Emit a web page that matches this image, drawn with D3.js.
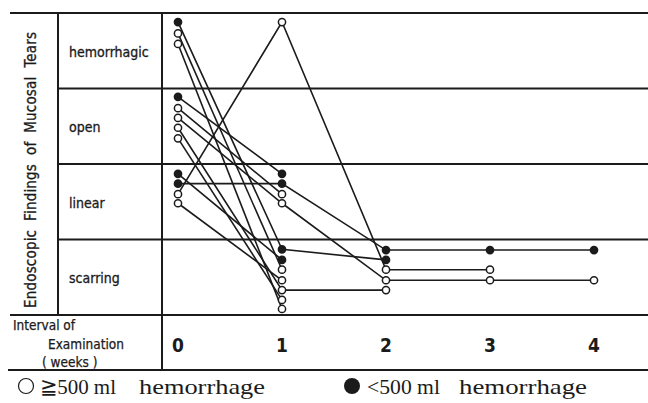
<!DOCTYPE html>
<html>
<head>
<meta charset="utf-8">
<script src="https://cdn.jsdelivr.net/npm/d3@7/dist/d3.min.js"></script>
<style>
  body { margin: 0; background: #fff; }
  svg { display: block; }
  .cond { font-family: "Liberation Sans Narrow", "DejaVu Sans Condensed", "Roboto Condensed", sans-serif; font-stretch: condensed; }
  .serif { font-family: "Liberation Serif", "DejaVu Serif", serif; }
</style>
</head>
<body>
<svg id="chart" width="648" height="403"></svg>
<script>
// Course of endoscopic findings per patient, weekly examinations.
// y value: 0-1 scarring, 1-2 linear, 2-3 open, 3-4 hemorrhagic (position inside band)

const weeks = [0, 1, 2, 3, 4];
const findings = ["scarring", "linear", "open", "hemorrhagic"];

// "lt" = <500 ml (filled), "ge" = >=500 ml (open)
const bleeding = ["lt", "ge", "ge", "lt", "ge", "ge", "ge", "ge", "lt", "lt", "ge", "ge"];

const courses = [
  [3.88, 0.87, 0.73],
  [3.73, 0.60],
  [3.59, 0.08],
  [2.89, 1.87],
  [2.74, 1.60],
  [2.61, 1.48, 0.46, 0.46, 0.46],
  [2.48, 0.33, 0.33],
  [2.34, 0.20],
  [1.87, 0.73],
  [1.74, 1.74, 0.86, 0.86, 0.86],
  [1.60, 3.88, 0.60, 0.60],
  [1.48, 0.46]
];

const svg = d3.select("#chart");
const ink = "#1b1b1b";

const plotTop = 13, plotBottom = 315, tableBottom = 370;
const col1 = 58, col2 = 162;

const x = d3.scaleLinear().domain([0, 4]).range([178, 594]);
const y = d3.scaleLinear().domain([0, 4]).range([plotBottom, plotTop]);

// table frame
const frame = svg.append("g").attr("stroke", ink).attr("stroke-width", 2);
frame.append("line").attr("x1", 10).attr("x2", 648).attr("y1", plotTop).attr("y2", plotTop);
frame.append("line").attr("x1", 10).attr("x2", 648).attr("y1", plotBottom).attr("y2", plotBottom);
frame.append("line").attr("x1", 8).attr("x2", 648).attr("y1", tableBottom).attr("y2", tableBottom);
frame.selectAll(".band-line")
  .data([1, 2, 3])
  .join("line")
  .attr("x1", col1).attr("x2", 648)
  .attr("y1", d => y(d)).attr("y2", d => y(d));
frame.append("line").attr("x1", col1).attr("x2", col1).attr("y1", plotTop).attr("y2", plotBottom);
frame.append("line").attr("x1", col2).attr("x2", col2).attr("y1", plotTop).attr("y2", tableBottom);

// row labels
svg.selectAll(".row-label")
  .data(findings)
  .join("text")
  .attr("class", "cond")
  .attr("x", 69)
  .attr("y", (d, i) => y(i + 0.5) + 6)
  .attr("font-size", 14)
  .attr("fill", ink)
  .attr("stroke", ink)
  .attr("stroke-width", 0.3)
  .text(d => d);

// y title
svg.append("text")
  .attr("class", "cond")
  .attr("transform", `translate(36, ${(plotTop + plotBottom) / 2 + 6}) rotate(-90)`)
  .attr("text-anchor", "middle")
  .attr("font-size", 15)
  .attr("fill", ink)
  .attr("stroke", ink)
  .attr("stroke-width", 0.3)
  .attr("textLength", 276)
  .attr("lengthAdjust", "spacing")
  .style("white-space", "pre")
  .text("Endoscopic  Findings  of  Mucosal  Tears");

// x header
const hdr = svg.append("g").attr("class", "cond").attr("font-size", 13.5)
  .attr("fill", ink).attr("stroke", ink).attr("stroke-width", 0.25);
hdr.append("text").attr("x", 13).attr("y", 330).text("Interval of");
hdr.append("text").attr("x", 48).attr("y", 349).text("Examination");
hdr.append("text").attr("x", 42).attr("y", 367).style("white-space", "pre").text("( weeks )");

svg.selectAll(".week")
  .data(weeks)
  .join("text")
  .attr("class", "cond")
  .attr("x", d => x(d))
  .attr("y", 352)
  .attr("text-anchor", "middle")
  .attr("font-size", 19)
  .attr("font-weight", 600)
  .attr("fill", ink)
  .text(d => d);

// patient lines
const line = d3.line()
  .x((d, i) => x(weeks[i]))
  .y(d => y(d));

svg.append("g")
  .selectAll("path")
  .data(courses)
  .join("path")
  .attr("d", d => line(d))
  .attr("fill", "none")
  .attr("stroke", ink)
  .attr("stroke-width", 1.6);

// points
const pts = courses.flatMap((c, p) => c.map((v, i) => ({ week: weeks[i], v, type: bleeding[p] })));
svg.append("g")
  .selectAll("circle")
  .data(pts)
  .join("circle")
  .attr("cx", d => x(d.week))
  .attr("cy", d => y(d.v))
  .attr("r", 3.6)
  .attr("fill", d => d.type === "lt" ? ink : "#fff")
  .attr("stroke", ink)
  .attr("stroke-width", 1.5);

// legend
const leg = svg.append("g").attr("class", "serif").attr("font-size", 22).attr("fill", ink);
leg.append("circle").attr("cx", 26).attr("cy", 386).attr("r", 7.5).attr("fill", "#fff").attr("stroke", ink).attr("stroke-width", 1.2);
leg.append("text").attr("x", 40).attr("y", 394).attr("textLength", 76).attr("lengthAdjust", "spacingAndGlyphs").text("≧500 ml");
leg.append("text").attr("x", 139).attr("y", 394).attr("textLength", 126).attr("lengthAdjust", "spacingAndGlyphs").text("hemorrhage");
leg.append("circle").attr("cx", 352).attr("cy", 386).attr("r", 8).attr("fill", ink);
leg.append("text").attr("x", 367).attr("y", 394).attr("textLength", 73).attr("lengthAdjust", "spacingAndGlyphs").text("<500 ml");
leg.append("text").attr("x", 459).attr("y", 394).attr("textLength", 128).attr("lengthAdjust", "spacingAndGlyphs").text("hemorrhage");
</script>
</body>
</html>
